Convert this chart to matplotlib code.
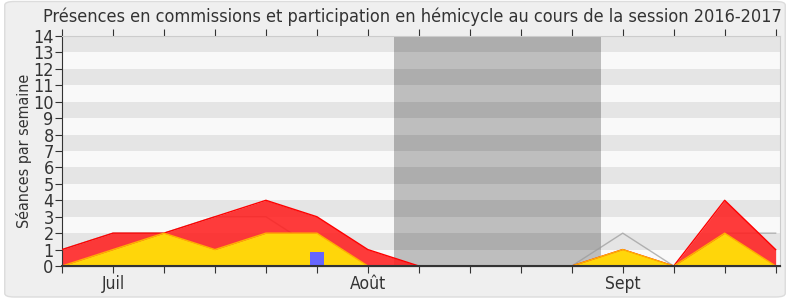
import matplotlib
matplotlib.use("Agg")
import matplotlib.pyplot as plt
from matplotlib.patches import FancyBboxPatch, Rectangle

weeks = list(range(15))
total = [1, 2, 2, 3, 4, 3, 1, 0, 0, 0, 0, 1, 0, 4, 1]
hemicycle = [0, 1, 2, 1, 2, 2, 0, 0, 0, 0, 0, 1, 0, 2, 0]
median_line = [1, 2, 2, 3, 3, 1, 0, 0, 0, 0, 0, 2, 0, 2, 2]
bar_week = [5]
bar_value = [0.85]
month_ticks = [1, 6, 11]
month_labels = ["Juil", "Août", "Sept"]
vacation = (6.51, 10.57)

FONT = ["DejaVu Sans"]
fig = plt.figure(figsize=(7.9, 3.0), dpi=100)
fig.patch.set_facecolor("white")
bg = FancyBboxPatch((0.006, 0.01), 0.988, 0.985, boxstyle="round,pad=0,rounding_size=0.012",
                    transform=fig.transFigure, facecolor="#efefef", edgecolor="#dcdcdc", lw=1,
                    zorder=-10)
fig.patches.append(bg)

ax = fig.add_axes([0.0785, 0.1133, 0.9085, 0.7667])
ax.set_xlim(0, 14.08)
ax.set_ylim(0, 14)
ax.set_facecolor("#f9f9f9")
for k in range(1, 14, 2):
    ax.axhspan(k, k + 1, color="#e5e5e5", lw=0, zorder=0)
ax.axvspan(vacation[0], vacation[1], color="#bebebe", lw=0, zorder=1)
for k in range(1, 14, 2):
    ax.add_patch(Rectangle((vacation[0], k), vacation[1] - vacation[0], 1,
                           facecolor="#adadad", lw=0, zorder=1.1))

ax.plot(weeks, median_line, color="#999999", lw=1, alpha=0.7, zorder=2)
ax.fill_between(weeks, 0, total, color="#ff2020", alpha=0.88, lw=0, zorder=2.5)
ax.plot(weeks, total, color="#ff0000", lw=1, zorder=3)
ax.fill_between(weeks, 0, hemicycle, color="#ffd60a", lw=0, zorder=4)
ax.plot(weeks, hemicycle, color="#ffb000", lw=1, zorder=4)
ax.bar(bar_week, bar_value, width=0.27, color="#6666ff", zorder=5)
ax.plot([0, 14.08], [0, 0], color="#333333", lw=1.5, zorder=6, clip_on=False)

ax.set_yticks(range(0, 15))
ax.set_yticklabels([str(v) for v in range(0, 15)], fontstretch="condensed", family=FONT)
ax.set_xticks(weeks)
ax.set_xticklabels([])
ax.tick_params(axis="x", which="major", length=5, color="#333333", direction="out", top=True)
ax.tick_params(axis="y", length=5, color="#333333", labelsize=13, labelcolor="#333333", pad=1)
for t, lab in zip(month_ticks, month_labels):
    ax.text(t, -0.55, lab, ha="center", va="top", fontsize=12.5, color="#333333",
            fontstretch="condensed", family=FONT)
for s in ["top", "right"]:
    ax.spines[s].set_color("#cccccc")
ax.spines["left"].set_color("#333333")
ax.spines["bottom"].set_color("#333333")
ax.set_ylabel("Séances par semaine", fontsize=11.5, color="#333333", labelpad=1,
              fontstretch="condensed", family=FONT)
fig.text(0.522, 0.943, "Présences en commissions et participation en hémicycle au cours de la session 2016-2017",
         ha="center", va="center", fontsize=13, color="#333333", fontstretch="condensed", family=FONT)

fig.savefig("out.png", dpi=100, facecolor=fig.get_facecolor())
